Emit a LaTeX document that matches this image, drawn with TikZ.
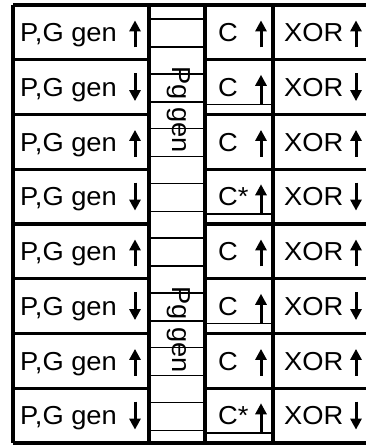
\documentclass[tikz,border=0pt]{standalone}
\usepackage{fontspec}
\setmainfont[FakeStretch=1.05]{Liberation Sans}
\usetikzlibrary{arrows.meta}
\begin{document}
\begin{tikzpicture}[x=1pt,y=-1pt,
  thickrule/.style={line width=3.4pt},
  thinrule/.style={line width=1.5pt},
  lbl/.style={font=\fontsize{26}{26}\selectfont, anchor=base west, inner sep=0pt},
  vlbl/.style={font=\fontsize{26}{26}\selectfont, anchor=base west, inner sep=0pt, rotate=-90},
  bigarrow/.style={-{Triangle[width=11pt,length=11pt]}, line width=3pt}]
\useasboundingbox (0,0) rectangle (366,448);

% row bands
\foreach \i in {0,...,7}{
  \pgfmathsetmacro\t{5+54.75*\i}
  \pgfmathsetmacro\c{\t+27.375}
  \pgfmathsetmacro\b{\c+9.3}
  % pipeline stage labels
  \node[lbl] (pg\i) at (20,\b) {P,G gen};
  \ifnum\i=3 \node[lbl] (c\i) at (218,\b) {C*};
  \else\ifnum\i=7 \node[lbl] (c\i) at (218,\b) {C*};
  \else \node[lbl] (c\i) at (218,\b) {C};\fi\fi
  \node[lbl] (x\i) at (284,\b) {XOR};
  % thin rules in the Pg gen column
  \draw[thinrule] (149,\t+14) -- (205,\t+14);
  \draw[thinrule] (149,\t+42) -- (205,\t+42);
  \ifodd\i
    \draw[bigarrow] (135,\c-14) -- (135,\c+14);
    \draw[bigarrow] (356,\c-14) -- (356,\c+14);
    \draw[thinrule] (205,\t+44.5) -- (273,\t+44.5);
    \draw[bigarrow] (261,\t+44) -- (261,\t+15);
  \else
    \draw[bigarrow] (135,\c+15) -- (135,\c-12);
    \draw[bigarrow] (356,\c+15) -- (356,\c-12);
    \draw[bigarrow] (261,\c+15) -- (261,\c-12);
  \fi
}

% row separators
\foreach \i in {1,...,7}{
  \pgfmathsetmacro\t{5+54.75*\i}
  \draw[thickrule] (13,\t) -- (149,\t);
  \draw[thickrule] (205,\t) -- (368,\t);
}

% vertical Pg gen labels
\node[vlbl] (pga) at (172,66) {Pg gen};
\node[vlbl] (pgb) at (172,286) {Pg gen};

% frame and column rules
\draw[thickrule] (13,5) -- (368,5);
\draw[thickrule] (13,443) -- (368,443);
\foreach \x in {13,149,205,273}
  \draw[thickrule] (\x,5) -- (\x,443);
\end{tikzpicture}
\end{document}
